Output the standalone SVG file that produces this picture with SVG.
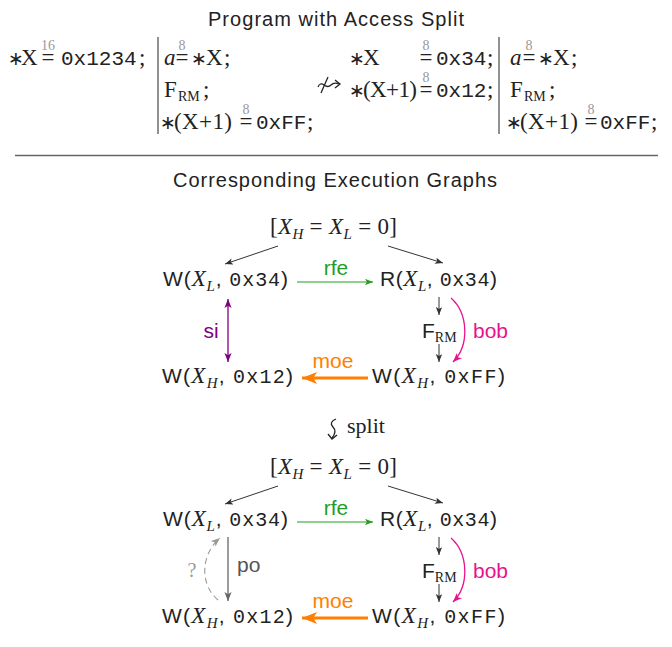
<svg xmlns="http://www.w3.org/2000/svg" width="672" height="647" viewBox="0 0 672 647">
<style>
text{fill:#222}
.ti{font-family:"Liberation Sans",Arial,sans-serif;font-size:20px}
.rm{font-family:"Liberation Serif","Times New Roman",serif;font-size:23px}
.it{font-family:"Liberation Serif","Times New Roman",serif;font-size:23px;font-style:italic}
.tt{font-family:"Liberation Mono","Courier New",monospace;font-size:21px}
.ast{font-family:"DejaVu Sans",sans-serif;font-size:19px}
.sm{font-family:"Liberation Serif",serif;font-size:14px;fill:#999}
.sc{font-family:"Liberation Serif",serif;font-size:14px}
.sf{font-family:"Liberation Sans",Arial,sans-serif;font-size:21px}
.mi{font-family:"Liberation Serif",serif;font-style:italic;font-size:23px}
.sub{font-size:15px}
.gt{font-family:"Liberation Mono",monospace;font-size:20px}
.lbl{font-family:"Liberation Sans",Arial,sans-serif;font-size:21px}
.dk{stroke:#333;stroke-width:1;fill:none}
</style>
<defs>
<marker id="aDk" viewBox="0 0 10 8" refX="10" refY="4" markerWidth="8" markerHeight="6.4" markerUnits="userSpaceOnUse" orient="auto"><path d="M0,0 L10,4 L0,8 L2.5,4z" fill="#333"/></marker>
<marker id="aGr" viewBox="0 0 10 8" refX="10" refY="4" markerWidth="8" markerHeight="6.4" markerUnits="userSpaceOnUse" orient="auto"><path d="M0,0 L10,4 L0,8 L2.5,4z" fill="#1f9e1f"/></marker>
<marker id="aPu" viewBox="0 0 10 8" refX="10" refY="4" markerWidth="9" markerHeight="7.2" markerUnits="userSpaceOnUse" orient="auto-start-reverse"><path d="M0,0 L10,4 L0,8 L2.5,4z" fill="#800080"/></marker>
<marker id="aMg" viewBox="0 0 10 8" refX="10" refY="4" markerWidth="9" markerHeight="7.2" markerUnits="userSpaceOnUse" orient="auto"><path d="M0,0 L10,4 L0,8 L2.5,4z" fill="#e8128c"/></marker>
<marker id="aOr" viewBox="0 0 10 8" refX="10" refY="4" markerWidth="15" markerHeight="12" markerUnits="userSpaceOnUse" orient="auto"><path d="M0,0 L10,4 L0,8 L2.5,4z" fill="#ff8000"/></marker>
<marker id="aGy" viewBox="0 0 10 8" refX="10" refY="4" markerWidth="9" markerHeight="7.2" markerUnits="userSpaceOnUse" orient="auto"><path d="M0,0 L10,4 L0,8 L2.5,4z" fill="#666"/></marker>
<marker id="aLg" viewBox="0 0 10 8" refX="10" refY="4" markerWidth="9" markerHeight="7.2" markerUnits="userSpaceOnUse" orient="auto"><path d="M0,0 L10,4 L0,8 L2.5,4z" fill="#999"/></marker>
</defs>
<rect width="672" height="647" fill="#fff"/>

<g id="program">
<text class="ti" x="336" y="26" text-anchor="middle" textLength="256" lengthAdjust="spacing">Program with Access Split</text>
<!-- column 1 -->
<text class="ast" x="16" y="65" text-anchor="middle">∗</text>
<text class="rm" x="21" y="65">X</text>
<text class="sm" x="48" y="50" text-anchor="middle">16</text>
<text class="rm" x="48" y="65" text-anchor="middle">=</text>
<text class="tt" x="61" y="65">0x1234</text>
<text class="rm" x="139" y="65">;</text>
<line x1="158" y1="37" x2="158" y2="134" stroke="#222" stroke-width="1"/>
<!-- column 2 -->
<text class="it" x="164" y="65">a</text>
<text class="sm" x="182" y="50" text-anchor="middle">8</text>
<text class="rm" x="182" y="65" text-anchor="middle">=</text>
<text class="ast" x="199" y="65" text-anchor="middle">∗</text>
<text class="rm" x="206" y="65">X</text>
<text class="rm" x="224" y="65">;</text>
<text class="rm" x="164" y="97">F</text>
<text class="sc" x="178" y="101">RM</text>
<text class="rm" x="203" y="97">;</text>
<text class="ast" x="168" y="129" text-anchor="middle">∗</text>
<text class="rm" x="174" y="129" textLength="58" lengthAdjust="spacing">(X+1)</text>
<text class="sm" x="246" y="114" text-anchor="middle">8</text>
<text class="rm" x="246" y="129" text-anchor="middle">=</text>
<text class="tt" x="256" y="129">0xFF</text>
<text class="rm" x="307" y="129">;</text>
<!-- not-leadsto -->
<path d="M318,87 q2,-5 6,-2 q4,3 7,0 q3,-3 8,-1" fill="none" stroke="#222" stroke-width="1.3"/>
<path d="M335,80 L340,84 L335,88" fill="none" stroke="#222" stroke-width="1.3"/>
<line x1="321" y1="93" x2="328" y2="77" stroke="#222" stroke-width="1.3"/>
<!-- column 3 -->
<text class="ast" x="357" y="65" text-anchor="middle">∗</text>
<text class="rm" x="363" y="65">X</text>
<text class="sm" x="426" y="50" text-anchor="middle">8</text>
<text class="rm" x="426" y="65" text-anchor="middle">=</text>
<text class="tt" x="436" y="65">0x34</text>
<text class="rm" x="487" y="65">;</text>
<text class="ast" x="357" y="97" text-anchor="middle">∗</text>
<text class="rm" x="363" y="97" textLength="54" lengthAdjust="spacing">(X+1)</text>
<text class="sm" x="426" y="82" text-anchor="middle">8</text>
<text class="rm" x="426" y="97" text-anchor="middle">=</text>
<text class="tt" x="436" y="97">0x12</text>
<text class="rm" x="487" y="97">;</text>
<line x1="499" y1="37" x2="499" y2="134" stroke="#222" stroke-width="1"/>
<!-- column 4 -->
<text class="it" x="510" y="65">a</text>
<text class="sm" x="529" y="50" text-anchor="middle">8</text>
<text class="rm" x="529" y="65" text-anchor="middle">=</text>
<text class="ast" x="546" y="65" text-anchor="middle">∗</text>
<text class="rm" x="553" y="65">X</text>
<text class="rm" x="571" y="65">;</text>
<text class="rm" x="510" y="97">F</text>
<text class="sc" x="524" y="101">RM</text>
<text class="rm" x="549" y="97">;</text>
<text class="ast" x="514" y="129" text-anchor="middle">∗</text>
<text class="rm" x="520" y="129" textLength="58" lengthAdjust="spacing">(X+1)</text>
<text class="sm" x="591" y="114" text-anchor="middle">8</text>
<text class="rm" x="591" y="129" text-anchor="middle">=</text>
<text class="tt" x="600" y="129">0xFF</text>
<text class="rm" x="651" y="129">;</text>
</g>

<line x1="15" y1="155.5" x2="658" y2="155.5" stroke="#666" stroke-width="1.3"/>
<text class="ti" x="335" y="187" text-anchor="middle" textLength="324" lengthAdjust="spacing">Corresponding Execution Graphs</text>

<!-- Graph 1 nodes -->
<g id="g1-init"><text x="270" y="234" textLength="127" lengthAdjust="spacing"><tspan class="rm">[</tspan><tspan class="mi">X</tspan><tspan class="mi sub" dy="5">H</tspan><tspan class="rm" dy="-5"> = </tspan><tspan class="mi">X</tspan><tspan class="mi sub" dy="5">L</tspan><tspan class="rm" dy="-5"> = 0]</tspan></text></g>
<g id="g1-wl"><text x="163" y="286" textLength="125" lengthAdjust="spacing"><tspan class="sf">W(</tspan><tspan class="mi">X</tspan><tspan class="mi sub" dy="5">L</tspan><tspan class="sf" dy="-5">, </tspan><tspan class="gt">0x34</tspan><tspan class="sf">)</tspan></text></g>
<g id="g1-rl"><text x="380" y="286" textLength="117" lengthAdjust="spacing"><tspan class="sf">R(</tspan><tspan class="mi">X</tspan><tspan class="mi sub" dy="5">L</tspan><tspan class="sf" dy="-5">, </tspan><tspan class="gt">0x34</tspan><tspan class="sf">)</tspan></text></g>
<g id="g1-f"><text x="422" y="338"><tspan class="sf">F</tspan><tspan class="sc" dy="4">RM</tspan></text></g>
<g id="g1-wh12"><text x="162" y="383" textLength="131" lengthAdjust="spacing"><tspan class="sf">W(</tspan><tspan class="mi">X</tspan><tspan class="mi sub" dy="5">H</tspan><tspan class="sf" dy="-5">, </tspan><tspan class="gt">0x12</tspan><tspan class="sf">)</tspan></text></g>
<g id="g1-whff"><text x="372" y="383" textLength="133" lengthAdjust="spacing"><tspan class="sf">W(</tspan><tspan class="mi">X</tspan><tspan class="mi sub" dy="5">H</tspan><tspan class="sf" dy="-5">, </tspan><tspan class="gt">0xFF</tspan><tspan class="sf">)</tspan></text></g>

<g id="g1-edges">
<line class="dk" x1="278" y1="246" x2="225" y2="264" marker-end="url(#aDk)"/>
<line class="dk" x1="388" y1="246" x2="443" y2="263" marker-end="url(#aDk)"/>
<line x1="297" y1="282" x2="373" y2="282" stroke="#1f9e1f" stroke-width="1.2" marker-end="url(#aGr)"/>
<text class="lbl" x="336" y="275" text-anchor="middle" style="fill:#1f9e1f">rfe</text>
<line x1="228" y1="299" x2="228" y2="362" stroke="#800080" stroke-width="1.3" marker-start="url(#aPu)" marker-end="url(#aPu)"/>
<text class="lbl" x="211" y="338" text-anchor="middle" style="fill:#800080">si</text>
<line class="dk" x1="439" y1="297" x2="439" y2="315" marker-end="url(#aDk)"/>
<line class="dk" x1="439" y1="344" x2="439" y2="362" marker-end="url(#aDk)"/>
<path d="M451,298 C468,313 470,345 453,362" fill="none" stroke="#e8128c" stroke-width="1.3" marker-end="url(#aMg)"/>
<text class="lbl" x="473" y="338" style="fill:#e8128c">bob</text>
<line x1="368" y1="378" x2="302" y2="378" stroke="#ff8000" stroke-width="3.2" marker-end="url(#aOr)"/>
<text class="lbl" x="333" y="368" text-anchor="middle" style="fill:#ff8000">moe</text>
</g>

<!-- split -->
<g id="split">
<path d="M336,419 c-5,2 -6,5 -3,8 c3,3 3,6 -1,11" fill="none" stroke="#222" stroke-width="1.3"/>
<path d="M328,434 L332,439 L337,435" fill="none" stroke="#222" stroke-width="1.3"/>
<text class="rm" x="347" y="433" style="font-size:22px">split</text>
</g>

<!-- Graph 2 nodes -->
<g id="g2-init"><text x="270" y="474" textLength="127" lengthAdjust="spacing"><tspan class="rm">[</tspan><tspan class="mi">X</tspan><tspan class="mi sub" dy="5">H</tspan><tspan class="rm" dy="-5"> = </tspan><tspan class="mi">X</tspan><tspan class="mi sub" dy="5">L</tspan><tspan class="rm" dy="-5"> = 0]</tspan></text></g>
<g id="g2-wl"><text x="163" y="526" textLength="125" lengthAdjust="spacing"><tspan class="sf">W(</tspan><tspan class="mi">X</tspan><tspan class="mi sub" dy="5">L</tspan><tspan class="sf" dy="-5">, </tspan><tspan class="gt">0x34</tspan><tspan class="sf">)</tspan></text></g>
<g id="g2-rl"><text x="380" y="526" textLength="117" lengthAdjust="spacing"><tspan class="sf">R(</tspan><tspan class="mi">X</tspan><tspan class="mi sub" dy="5">L</tspan><tspan class="sf" dy="-5">, </tspan><tspan class="gt">0x34</tspan><tspan class="sf">)</tspan></text></g>
<g id="g2-f"><text x="422" y="578"><tspan class="sf">F</tspan><tspan class="sc" dy="4">RM</tspan></text></g>
<g id="g2-wh12"><text x="162" y="623" textLength="131" lengthAdjust="spacing"><tspan class="sf">W(</tspan><tspan class="mi">X</tspan><tspan class="mi sub" dy="5">H</tspan><tspan class="sf" dy="-5">, </tspan><tspan class="gt">0x12</tspan><tspan class="sf">)</tspan></text></g>
<g id="g2-whff"><text x="372" y="623" textLength="133" lengthAdjust="spacing"><tspan class="sf">W(</tspan><tspan class="mi">X</tspan><tspan class="mi sub" dy="5">H</tspan><tspan class="sf" dy="-5">, </tspan><tspan class="gt">0xFF</tspan><tspan class="sf">)</tspan></text></g>

<g id="g2-edges">
<line class="dk" x1="278" y1="486" x2="225" y2="504" marker-end="url(#aDk)"/>
<line class="dk" x1="388" y1="486" x2="443" y2="503" marker-end="url(#aDk)"/>
<line x1="297" y1="522" x2="373" y2="522" stroke="#1f9e1f" stroke-width="1.2" marker-end="url(#aGr)"/>
<text class="lbl" x="336" y="515" text-anchor="middle" style="fill:#1f9e1f">rfe</text>
<line x1="228" y1="537" x2="228" y2="601" stroke="#666" stroke-width="1.3" marker-end="url(#aGy)"/>
<text class="lbl" x="237" y="572" style="fill:#555">po</text>
<path d="M218,600 C200,585 200,555 220,538" fill="none" stroke="#999" stroke-width="1.1" stroke-dasharray="6,4" marker-end="url(#aLg)"/>
<text class="rm" x="192" y="577" text-anchor="middle" style="fill:#999;font-size:20px">?</text>
<line class="dk" x1="439" y1="537" x2="439" y2="555" marker-end="url(#aDk)"/>
<line class="dk" x1="439" y1="584" x2="439" y2="602" marker-end="url(#aDk)"/>
<path d="M451,538 C468,553 470,585 453,602" fill="none" stroke="#e8128c" stroke-width="1.3" marker-end="url(#aMg)"/>
<text class="lbl" x="473" y="578" style="fill:#e8128c">bob</text>
<line x1="368" y1="618" x2="302" y2="618" stroke="#ff8000" stroke-width="3.2" marker-end="url(#aOr)"/>
<text class="lbl" x="333" y="608" text-anchor="middle" style="fill:#ff8000">moe</text>
</g>
</svg>
